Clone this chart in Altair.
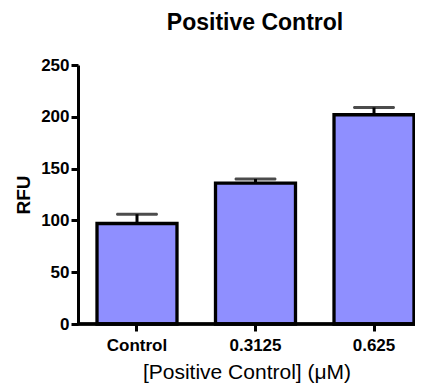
import altair as alt
import pandas as pd

categories = ["Control", "0.3125", "0.625"]
means = [97, 136, 202]
upper = [106, 140, 209]

df = pd.DataFrame({"cat": categories, "mean": means, "upper": upper})

FONT = "Liberation Sans"
W, H = 337, 259

xscale = alt.Scale(domain=categories, paddingInner=0.325, paddingOuter=0.0844, align=0.95)
xaxis = alt.Axis(title="[Positive Control] (μM)", labelAngle=0, domain=False,
                 labelAlign="center", labelBaseline="top",
                 tickColor="black", tickWidth=3, tickSize=7,
                 labelFont=FONT, labelFontSize=17, labelFontWeight="bold",
                 labelColor="black", labelPadding=6,
                 titleFont=FONT, titleFontSize=21, titleFontWeight="normal",
                 titleColor="black", titlePadding=8)
yscale = alt.Scale(domain=[0, 250], nice=False)
yaxis = alt.Axis(title="RFU", values=[0, 50, 100, 150, 200, 250], grid=False,
                 domainColor="black", domainWidth=3,
                 tickColor="black", tickWidth=3, tickSize=7,
                 labelFont=FONT, labelFontSize=17, labelFontWeight="bold",
                 labelColor="black", labelPadding=2,
                 titleFont=FONT, titleFontSize=19, titleFontWeight="bold",
                 titleColor="black", titlePadding=7)

x = alt.X("cat:N", scale=xscale, sort=categories, axis=xaxis)

base = alt.Chart(df)

bars = base.mark_bar(color="#8f8fff", stroke="black", strokeWidth=3.3).encode(
    x=x, y=alt.Y("mean:Q", scale=yscale, axis=yaxis))

err = base.mark_rule(color="black", strokeWidth=3).encode(
    x=x, y=alt.Y("mean:Q", scale=yscale, axis=yaxis), y2="upper:Q")

caps = base.mark_tick(color="black", thickness=3, size=42, cornerRadius=1.5).encode(
    x=x, y=alt.Y("upper:Q", scale=yscale, axis=yaxis))

xline = base.mark_rule(color="black", strokeWidth=3).encode(
    x=alt.value(0), x2=alt.value(W), y=alt.value(H))

chart = alt.layer(bars, err, caps, xline).properties(
    width=W, height=H,
    title=alt.TitleParams("Positive Control", font=FONT, fontSize=23, fontWeight="bold",
                          color="black", anchor="middle", dx=8.5, frame="group",
                          baseline="alphabetic", offset=3),
    autosize=alt.AutoSizeParams(type="none"),
    padding={"left": 70, "top": 57, "right": 0, "bottom": 60},
).configure_view(stroke=None)

chart.save("out.html", embed_options={"renderer": "svg", "actions": False})
